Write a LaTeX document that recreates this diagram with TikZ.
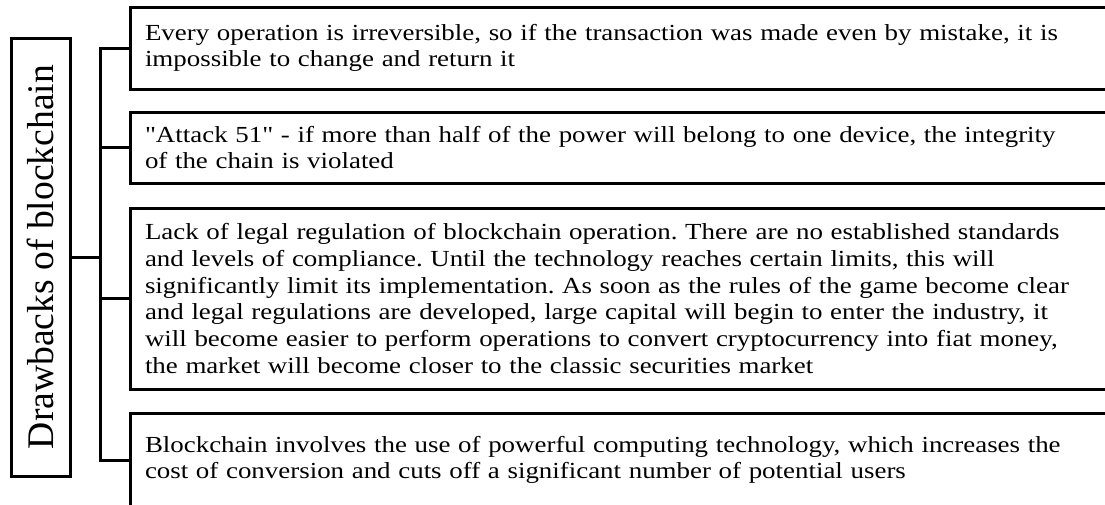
\documentclass[tikz,border=0pt]{standalone}
\usepackage{fontspec}
\setmainfont{Liberation Serif}[Ligatures=TeXOff]
\newfontfamily\bodyfont{Liberation Serif}[Ligatures=TeXOff, FakeStretch=1.17]
\frenchspacing
\begin{document}
\begin{tikzpicture}[x=1pt, y=-1pt, line width=3pt,
  itembox/.style={draw, rectangle, anchor=north west, outer sep=0pt,
    inner xsep=15pt, inner ysep=0pt, align=left, text width=960pt,
    minimum width=990pt, font=\bodyfont\fontsize{23}{26.7}\selectfont},
  titlebox/.style={draw, rectangle, rotate=90, outer sep=0pt,
    minimum width=438pt, minimum height=59pt, inner sep=0pt,
    font=\fontsize{37.6}{40}\selectfont},
  link/.style={draw, line cap=rect}]
\useasboundingbox (0,0) rectangle (1105,504);

% root of the tree
\node[titlebox] (root) at (40.5,257) {Drawbacks of blockchain};

% the four drawbacks
\node[itembox, minimum height=82pt] (b1) at (130,7)
  {Every operation is irreversible, so if the transaction was made even by mistake, it is\\
   impossible to change and return it};
\node[itembox, minimum height=71pt] (b2) at (130,112)
  {"Attack 51" - if more than half of the power will belong to one device, the integrity\\
   of the chain is violated};
\node[itembox, minimum height=181pt] (b3) at (130,208)
  {Lack of legal regulation of blockchain operation. There are no established standards\\
   and levels of compliance. Until the technology reaches certain limits, this will\\
   significantly limit its implementation. As soon as the rules of the game become clear\\
   and legal regulations are developed, large capital will begin to enter the industry, it\\
   will become easier to perform operations to convert cryptocurrency into fiat money,\\
   the market will become closer to the classic securities market};
\node[itembox, minimum height=94pt] (b4) at (130,413)
  {Blockchain involves the use of powerful computing technology, which increases the\\
   cost of conversion and cuts off a significant number of potential users};

% connectors
\path (root.south) ++(30,0) coordinate (hub);
\draw[link] (root.south) -- (hub);
\draw[link] (b1.west -| hub) -- (b4.west -| hub);
\foreach \b in {b1,b2,b3,b4}
  \draw[link] (\b.west -| hub) -- (\b.west);
\end{tikzpicture}
\end{document}
